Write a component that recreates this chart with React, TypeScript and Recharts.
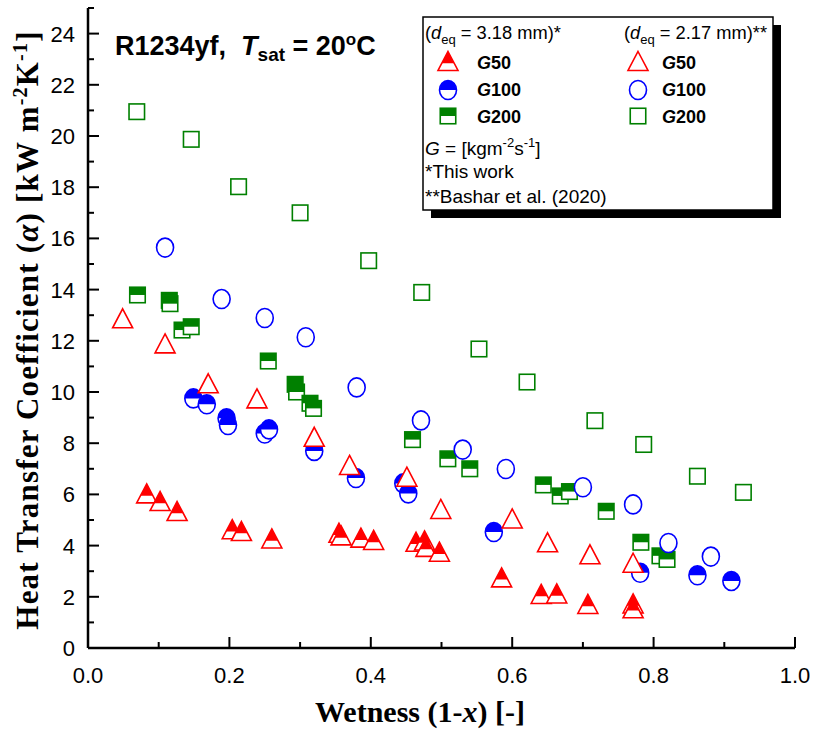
import React from 'react'
import { ScatterChart, Scatter, XAxis, YAxis } from 'recharts'

const xTicks = [0, 0.1, 0.2, 0.3, 0.4, 0.5, 0.6, 0.7, 0.8, 0.9, 1.0]
const yTicks = [0, 1, 2, 3, 4, 5, 6, 7, 8, 9, 10, 11, 12, 13, 14, 15, 16, 17, 18, 19, 20, 21, 22, 23, 24, 25]

// this work, d_eq = 3.18 mm
const oursG50Wetness = [0.083, 0.102, 0.126, 0.204, 0.217, 0.26, 0.355, 0.358, 0.386, 0.404, 0.464, 0.476, 0.478, 0.497, 0.585, 0.641, 0.663, 0.707, 0.771, 0.771]
const oursG50Htc = [6.04, 5.74, 5.35, 4.64, 4.57, 4.28, 4.5, 4.4, 4.31, 4.22, 4.15, 4.2, 3.95, 3.76, 2.76, 2.11, 2.13, 1.72, 1.74, 1.55]
const oursG100Wetness = [0.149, 0.168, 0.196, 0.198, 0.25, 0.256, 0.32, 0.379, 0.446, 0.453, 0.574, 0.781, 0.862, 0.91]
const oursG100Htc = [9.75, 9.52, 8.97, 8.71, 8.38, 8.54, 7.7, 6.64, 6.43, 6.04, 4.53, 2.94, 2.84, 2.62]
const oursG200Wetness = [0.07, 0.115, 0.116, 0.133, 0.146, 0.255, 0.293, 0.295, 0.314, 0.319, 0.459, 0.509, 0.54, 0.644, 0.668, 0.681, 0.733, 0.782, 0.809, 0.819]
const oursG200Htc = [13.79, 13.58, 13.45, 12.42, 12.55, 11.21, 10.3, 10.0, 9.56, 9.36, 8.14, 7.39, 7.0, 6.37, 5.94, 6.11, 5.34, 4.13, 3.6, 3.46]

// Bashar et al. (2020), d_eq = 2.17 mm
const basharG50Wetness = [0.049, 0.109, 0.17, 0.239, 0.32, 0.37, 0.451, 0.499, 0.6, 0.65, 0.71, 0.771]
const basharG50Htc = [12.88, 11.9, 10.34, 9.75, 8.25, 7.15, 6.69, 5.43, 5.06, 4.13, 3.66, 3.33]
const basharG100Wetness = [0.109, 0.189, 0.25, 0.308, 0.38, 0.471, 0.53, 0.591, 0.7, 0.771, 0.821, 0.881]
const basharG100Htc = [15.64, 13.63, 12.89, 12.14, 10.18, 8.89, 7.75, 6.99, 6.28, 5.61, 4.1, 3.57]
const basharG200Wetness = [0.069, 0.146, 0.213, 0.3, 0.397, 0.472, 0.553, 0.621, 0.717, 0.786, 0.862, 0.927]
const basharG200Htc = [20.95, 19.87, 18.02, 17.0, 15.13, 13.89, 11.68, 10.39, 8.88, 7.95, 6.71, 6.08]

const RED = '#ff0000'
const BLUE = '#0000ff'
const GREEN = '#008000'
const SANS = '"Liberation Sans", Arial, sans-serif'
const SERIF = '"Liberation Serif", "Times New Roman", serif'

const toPoints = (xs: number[], ys: number[]) => xs.map((x, i) => ({ x, y: ys[i] }))

const triPath = (cx: number, cy: number, w: number, h: number) =>
  `M${cx},${cy - h / 2} L${cx + w / 2},${cy + h / 2} L${cx - w / 2},${cy + h / 2} Z`

function HalfTriangle({ cx, cy }: any) {
  const w = 20, h = 19, f = 0.62
  const yb = cy - h / 2 + f * h
  const hw = (w / 2) * f
  return (
    <g>
      <path d={triPath(cx, cy, w, h)} fill="#fff" stroke={RED} strokeWidth={1.6} />
      <path d={`M${cx},${cy - h / 2} L${cx + hw},${yb} L${cx - hw},${yb} Z`} fill={RED} />
    </g>
  )
}

function OpenTriangle({ cx, cy }: any) {
  return <path d={triPath(cx, cy, 20, 19)} fill="#fff" stroke={RED} strokeWidth={1.6} />
}

function HalfCircle({ cx, cy }: any) {
  const rx = 8.5, ry = 9.5
  return (
    <g>
      <ellipse cx={cx} cy={cy} rx={rx} ry={ry} fill="#fff" />
      <path d={`M${cx - rx},${cy} A${rx},${ry} 0 0 1 ${cx + rx},${cy} Z`} fill={BLUE} />
      <ellipse cx={cx} cy={cy} rx={rx} ry={ry} fill="none" stroke={BLUE} strokeWidth={1.6} />
    </g>
  )
}

function OpenCircle({ cx, cy }: any) {
  return <ellipse cx={cx} cy={cy} rx={8.5} ry={9.5} fill="#fff" stroke={BLUE} strokeWidth={1.6} />
}

function HalfSquare({ cx, cy }: any) {
  const s = 15.5
  return (
    <g>
      <rect x={cx - s / 2} y={cy - s / 2} width={s} height={s} fill="#fff" />
      <rect x={cx - s / 2} y={cy - s / 2} width={s} height={s / 2} fill={GREEN} />
      <rect x={cx - s / 2} y={cy - s / 2} width={s} height={s} fill="none" stroke={GREEN} strokeWidth={1.6} />
    </g>
  )
}

function OpenSquare({ cx, cy }: any) {
  const s = 15.5
  return <rect x={cx - s / 2} y={cy - s / 2} width={s} height={s} fill="#fff" stroke={GREEN} strokeWidth={1.6} />
}

const isMajorX = (v: number) => Math.round(v * 10) % 2 === 0
const isMajorY = (v: number) => Math.round(v) % 2 === 0

function BottomTick({ x, y, payload }: any) {
  const major = isMajorX(payload.value)
  return (
    <g>
      <line x1={x} x2={x} y1={y} y2={y - (major ? 11 : 6)} stroke="#000" strokeWidth={2} />
      {major && (
        <text x={x} y={y + 35} textAnchor="middle" fontFamily={SANS} fontSize={22} fill="#000">
          {payload.value.toFixed(1)}
        </text>
      )}
    </g>
  )
}

function TopTick({ x, y, payload }: any) {
  const major = isMajorX(payload.value)
  return <line x1={x} x2={x} y1={y} y2={y + (major ? 11 : 6)} stroke="#000" strokeWidth={2} />
}

function LeftTick({ x, y, payload }: any) {
  const major = isMajorY(payload.value)
  return (
    <g>
      <line x1={x} x2={x + (major ? 11 : 6)} y1={y} y2={y} stroke="#000" strokeWidth={2} />
      {major && payload.value <= 24 && (
        <text x={x - 13} y={y + 8} textAnchor="end" fontFamily={SANS} fontSize={22} fill="#000">
          {payload.value}
        </text>
      )}
    </g>
  )
}

function RightTick({ x, y, payload }: any) {
  const major = isMajorY(payload.value)
  return <line x1={x} x2={x - (major ? 11 : 6)} y1={y} y2={y} stroke="#000" strokeWidth={2} />
}

function Overlay() {
  return (
    <svg width={814} height={736} style={{ position: 'absolute', left: 0, top: 0, pointerEvents: 'none' }}>
      {/* y axis title */}
      <text
        x={38}
        y={330}
        transform="rotate(-90, 38, 330)"
        textAnchor="middle"
        fontFamily={SERIF}
        fontWeight="bold"
        fontSize={31}
        letterSpacing={1.2}
        fill="#000"
      >
        Heat Transfer Coefficient (<tspan fontStyle="italic">α</tspan>) [kW m
        <tspan dy={-11} fontSize={20}>-2</tspan>
        <tspan dy={11}>K</tspan>
        <tspan dy={-11} fontSize={20}>-1</tspan>
        <tspan dy={11}>]</tspan>
      </text>

      {/* x axis title */}
      <text x={420} y={722} textAnchor="middle" fontFamily={SERIF} fontWeight="bold" fontSize={30} fill="#000">
        Wetness (1-<tspan fontStyle="italic">x</tspan>) [-]
      </text>

      {/* annotation */}
      <text x={115} y={55} fontFamily={SANS} fontWeight="bold" fontSize={27} fill="#000">
        {'R1234yf,\u00a0\u00a0'}
        <tspan fontStyle="italic">T</tspan>
        <tspan dy={6} fontSize={19}>sat</tspan>
        <tspan dy={-6}>{'\u00a0=\u00a020'}</tspan>
        <tspan dy={-10} fontSize={17}>o</tspan>
        <tspan dy={10}>C</tspan>
      </text>

      {/* legend */}
      <rect x={431} y={25} width={350} height={193} fill="#000" />
      <rect x={423} y={17} width={350} height={193} fill="#fff" stroke="#000" strokeWidth={1.5} />
      <g fontFamily={SANS} fontSize={19} fill="#000">
        <g fontSize={18.3}>
          <text x={425} y={39}>
            (<tspan fontStyle="italic">d</tspan>
            <tspan dy={5} fontSize={13}>eq</tspan>
            <tspan dy={-5}>{'\u00a0=\u00a03.18 mm)*'}</tspan>
          </text>
          <text x={624} y={39}>
            (<tspan fontStyle="italic">d</tspan>
            <tspan dy={5} fontSize={13}>eq</tspan>
            <tspan dy={-5}>{'\u00a0=\u00a02.17 mm)**'}</tspan>
          </text>
        </g>
        <HalfTriangle cx={448} cy={61} />
        <HalfCircle cx={448} cy={90} />
        <HalfSquare cx={448} cy={116} />
        <OpenTriangle cx={638} cy={61} />
        <OpenCircle cx={638} cy={90} />
        <OpenSquare cx={638} cy={116} />
        {[
          { y: 69, label: '50' },
          { y: 96, label: '100' },
          { y: 123, label: '200' },
        ].map((r) => (
          <g key={r.label} fontWeight="bold" fontSize={18}>
            <text x={477} y={r.y}>
              <tspan fontStyle="italic">G</tspan>
              {r.label}
            </text>
            <text x={662} y={r.y}>
              <tspan fontStyle="italic">G</tspan>
              {r.label}
            </text>
          </g>
        ))}
        <text x={425} y={155}>
          <tspan fontStyle="italic">G</tspan>
          {'\u00a0=\u00a0[kgm'}
          <tspan dy={-8} fontSize={13}>-2</tspan>
          <tspan dy={8}>s</tspan>
          <tspan dy={-8} fontSize={13}>-1</tspan>
          <tspan dy={8}>]</tspan>
        </text>
        <text x={425} y={178}>*This work</text>
        <text x={425} y={203}>**Bashar et al. (2020)</text>
      </g>
    </svg>
  )
}

export default function App() {
  return (
    <div style={{ position: 'absolute', left: 0, top: 0, width: 814, height: 736, background: '#fff' }}>
      <ScatterChart width={814} height={736} margin={{ top: 8, right: 19, bottom: 0, left: 0 }}>
        <XAxis
          dataKey="x"
          type="number"
          domain={[0, 1]}
          ticks={xTicks}
          interval={0}
          height={88}
          tickSize={0}
          tickMargin={0}
          tick={<BottomTick />}
          axisLine={{ stroke: '#000', strokeWidth: 2.5 }}
        />
        <XAxis
          xAxisId="top"
          orientation="top"
          type="number"
          domain={[0, 1]}
          ticks={xTicks}
          interval={0}
          height={0}
          tickSize={0}
          tickMargin={0}
          tick={<TopTick />}
          axisLine={{ stroke: '#000', strokeWidth: 2.5 }}
        />
        <YAxis
          dataKey="y"
          type="number"
          domain={[0, 25]}
          ticks={yTicks}
          interval={0}
          width={88}
          tickSize={0}
          tickMargin={0}
          tick={<LeftTick />}
          axisLine={{ stroke: '#000', strokeWidth: 2.5 }}
        />
        <YAxis
          yAxisId="right"
          orientation="right"
          type="number"
          domain={[0, 25]}
          ticks={yTicks}
          interval={0}
          width={0}
          tickSize={0}
          tickMargin={0}
          tick={<RightTick />}
          axisLine={{ stroke: '#000', strokeWidth: 2.5 }}
        />
        <Scatter data={toPoints(oursG200Wetness, oursG200Htc)} shape={HalfSquare} isAnimationActive={false} />
        <Scatter data={toPoints(oursG100Wetness, oursG100Htc)} shape={HalfCircle} isAnimationActive={false} />
        <Scatter data={toPoints(oursG50Wetness, oursG50Htc)} shape={HalfTriangle} isAnimationActive={false} />
        <Scatter data={toPoints(basharG200Wetness, basharG200Htc)} shape={OpenSquare} isAnimationActive={false} />
        <Scatter data={toPoints(basharG100Wetness, basharG100Htc)} shape={OpenCircle} isAnimationActive={false} />
        <Scatter data={toPoints(basharG50Wetness, basharG50Htc)} shape={OpenTriangle} isAnimationActive={false} />
      </ScatterChart>
      <Overlay />
    </div>
  )
}
